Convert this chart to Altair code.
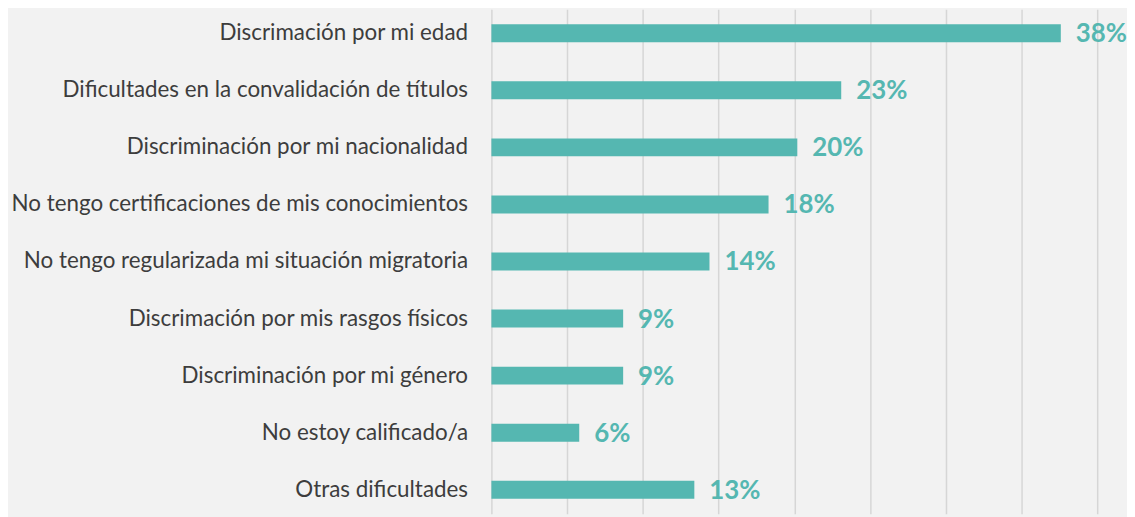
import altair as alt
import pandas as pd

categories = [
    "Discrimación por mi edad",
    "Dificultades en la convalidación de títulos\u00a0",
    "Discriminación por mi nacionalidad\u00a0",
    "No tengo certificaciones de mis conocimientos\u00a0",
    "No tengo regularizada mi situación migratoria\u00a0",
    "Discrimación por mis rasgos físicos",
    "Discriminación por mi género",
    "No estoy calificado/a",
    "Otras dificultades",
]
values = [37.6, 23.1, 20.2, 18.3, 14.4, 8.7, 8.7, 5.8, 13.4]
value_labels = ["38%", "23%", "20%", "18%", "14%", "9%", "9%", "6%", "13%"]
grid_values = [0, 5, 10, 15, 20, 25, 30, 35, 40]

df = pd.DataFrame({"cat": categories, "val": values, "lab": value_labels})

TEAL = "#55b7b1"

y_enc = alt.Y(
    "cat:N",
    sort=categories,
    title=None,
    scale=alt.Scale(paddingInner=0.686, paddingOuter=0.261),
    axis=alt.Axis(
        domain=False,
        ticks=False,
        labelPadding=24,
        labelFont="Lato",
        labelFontSize=22.5,
        labelColor="#3d3d3d",
        labelLimit=700,
        grid=False,
    ),
)
x_enc = alt.X(
    "val:Q",
    title=None,
    scale=alt.Scale(domain=[0, 40], nice=False, clamp=False),
    axis=alt.Axis(
        values=grid_values,
        labels=False,
        ticks=False,
        domain=False,
        grid=True,
        gridColor="#d6d6d6",
        gridWidth=1.5,
    ),
)

bars = alt.Chart(df).mark_bar(color=TEAL).encode(x=x_enc, y=y_enc)
text = alt.Chart(df).mark_text(
    align="left", baseline="middle", dx=15, dy=1,
    font="Lato", fontSize=26, fontWeight="bold", color=TEAL,
).encode(x="val:Q", y=alt.Y("cat:N", sort=categories), text="lab:N")

chart = (
    alt.layer(bars, text)
    .properties(
        width=609,
        height=507,
        autosize=alt.AutoSizeParams(type="none"),
        padding={"left": 486, "top": 0, "right": 30, "bottom": 2},
        background="#f2f2f2",
    )
    .configure_view(stroke=None)
)

chart.save("out.html", embed_options={"renderer": "svg", "actions": False})
